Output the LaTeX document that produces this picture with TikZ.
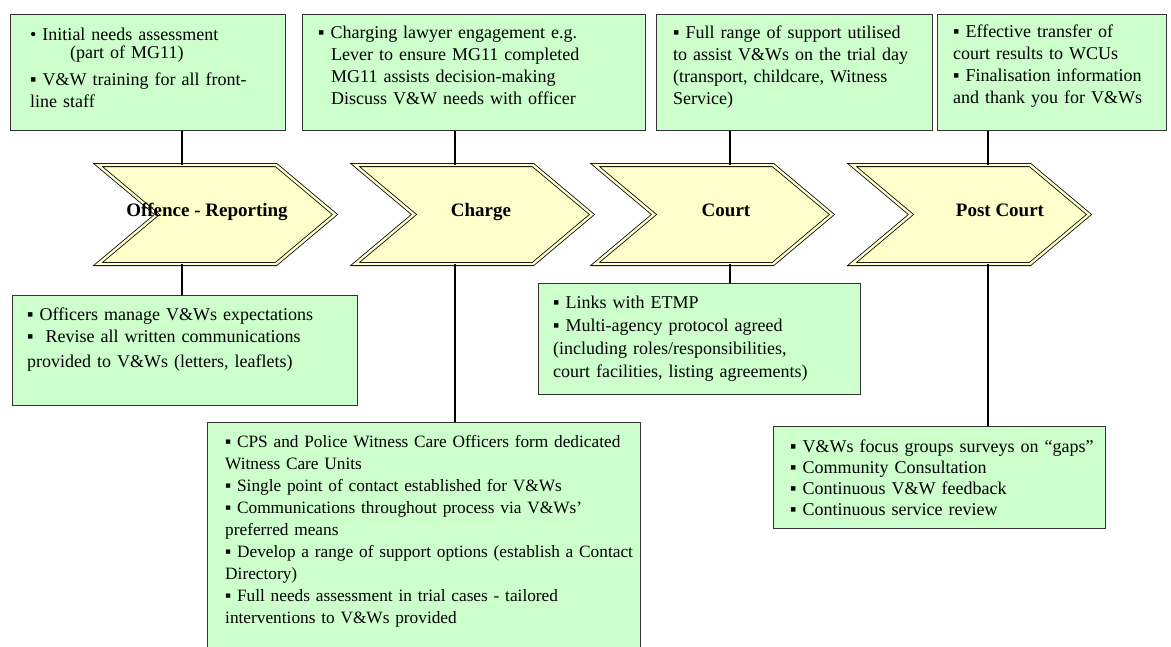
\documentclass[tikz,border=0pt]{standalone}
\usepackage{fontspec}
\setmainfont{Liberation Serif}
\usetikzlibrary{shapes.symbols,positioning}
\definecolor{notegreen}{HTML}{CCFFCC}
\definecolor{chevyellow}{HTML}{FFFFCC}
\tikzset{
    note/.style = {draw=black!80, fill=notegreen, line width=1.2pt, rectangle,
        anchor=north west, inner sep=0pt},
    notetext/.style = {anchor=base west, align=left, text width=#1, inner sep=0pt,
        font=\fontsize{18}{22}\selectfont},
    chevron/.style = {signal, signal to=east, signal from=west, signal pointer angle=80,
        draw=black, line width=0.8pt, double=chevyellow, double distance=2.4pt,
        fill=chevyellow, minimum width=237pt, minimum height=99pt, inner sep=0pt},
    stage/.style = {anchor=base, font=\bfseries\fontsize{19}{22}\selectfont},
    link/.style = {draw, line width=1.6pt}
}
\begin{document}
\begin{tikzpicture}[x=1pt, y=-1pt]
    \useasboundingbox (0,0) rectangle (1171,646);
    \node [note, minimum width=275pt, minimum height=116pt] (up1) at (10,14) {};
    \node [note, minimum width=343pt, minimum height=116pt] (up2) at (302,14) {};
    \node [note, minimum width=276pt, minimum height=116pt] (up3) at (656,14) {};
    \node [note, minimum width=229pt, minimum height=116pt] (up4) at (937,14) {};
    \node [note, minimum width=345pt, minimum height=110pt] (dn1) at (12,295) {};
    \node [note, minimum width=433pt, minimum height=240pt] (dn2) at (207,422) {};
    \node [note, minimum width=322pt, minimum height=111pt] (dn3) at (538,283) {};
    \node [note, minimum width=332pt, minimum height=102pt] (dn4) at (773,426) {};
    \node [chevron] (ch1) at (216.5,214.5) {};
    \node [chevron] (ch2) at (473.5,214.5) {};
    \node [chevron] (ch3) at (713.5,214.5) {};
    \node [chevron] (ch4) at (970.5,214.5) {};
    \node [stage] (lab1) at (207,216) {Offence - Reporting};
    \node [stage] (lab2) at (481,216) {Charge};
    \node [stage] (lab3) at (726,216) {Court};
    \node [stage] (lab4) at (1000,216) {Post Court};
    \coordinate (x1) at (182,0);
    \coordinate (x2) at (455,0);
    \coordinate (x3) at (730,0);
    \coordinate (x4) at (988,0);
    \draw [link] (up1.south -| x1) -- (ch1.north -| x1);
    \draw [link] (ch1.south -| x1) -- (dn1.north -| x1);
    \draw [link] (up2.south -| x2) -- (ch2.north -| x2);
    \draw [link] (ch2.south -| x2) -- (dn2.north -| x2);
    \draw [link] (up3.south -| x3) -- (ch3.north -| x3);
    \draw [link] (ch3.south -| x3) -- (dn3.north -| x3);
    \draw [link] (up4.south -| x4) -- (ch4.north -| x4);
    \draw [link] (ch4.south -| x4) -- (dn4.north -| x4);
    \node [notetext=300pt] (up1t) at (30,40) {• Initial needs assessment\\[-4pt]
        \hspace*{40pt}(part of MG11)\\[5pt]
        ▪ V\&W training for all front-\\
        line staff};
    \node [notetext=400pt] (up2t) at (318,38) {▪ Charging lawyer engagement e.g.\\
        \hspace*{13pt}Lever to ensure MG11 completed\\
        \hspace*{13pt}MG11 assists decision-making\\
        \hspace*{13pt}Discuss V\&W needs with officer};
    \node [notetext=350pt] (up3t) at (673,38) {▪ Full range of support utilised\\
        to assist V\&Ws on the trial day\\
        (transport, childcare, Witness\\
        Service)};
    \node [notetext=300pt] (up4t) at (953,37) {▪ Effective transfer of\\
        court results to WCUs\\
        ▪ Finalisation information\\
        and thank you for V\&Ws};
    \node [notetext=400pt] (dn1t) at (27,320) {▪ Officers manage V\&Ws expectations\\
        ▪\ \ Revise all written communications\\[3pt]
        provided to V\&Ws (letters, leaflets)};
    \node [notetext=520pt, font=\fontsize{17.3}{22}\selectfont] (dn2t) at (225,447) {▪ CPS and Police Witness Care Officers form dedicated\\
        Witness Care Units\\
        ▪ Single point of contact established for V\&Ws\\
        ▪ Communications throughout process via V\&Ws’\\
        preferred means\\
        ▪ Develop a range of support options (establish a Contact\\
        Directory)\\
        ▪ Full needs assessment in trial cases - tailored\\
        interventions to V\&Ws provided};
    \node [notetext=400pt] (dn3t) at (553,308) {▪ Links with ETMP\\[1pt]
        ▪ Multi-agency protocol agreed\\[1pt]
        (including roles/responsibilities,\\[1pt]
        court facilities, listing agreements)};
    \node [notetext=400pt] (dn4t) at (790,452) {▪ V\&Ws focus groups surveys on “gaps”\\[-1pt]
        ▪ Community Consultation\\[-1pt]
        ▪ Continuous V\&W feedback\\[-1pt]
        ▪ Continuous service review};
\end{tikzpicture}
\end{document}
